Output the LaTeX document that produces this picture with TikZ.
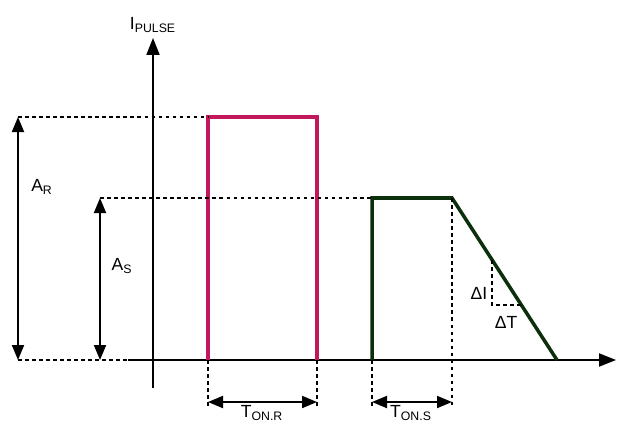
\documentclass[tikz,border=0pt]{standalone}
\usepackage{fontspec}
\setmainfont{Liberation Sans}
\usetikzlibrary{arrows.meta}

\definecolor{pulsered}{RGB}{194,24,91}
\definecolor{pulsegreen}{RGB}{12,48,12}

\begin{document}
\begin{tikzpicture}[
        x=0.02cm, y=-0.02cm,
        axis/.style={line width=1.1pt, -{Triangle[length=3.4mm, width=2.6mm]}},
        dim/.style={line width=1.1pt, {Triangle[length=3mm, width=2.4mm]}-{Triangle[length=3mm, width=2.4mm]}},
        guide/.style={dashed, dash pattern=on 2pt off 2pt, line width=0.7pt},
        lbl/.style={font=\fontsize{10}{12}\selectfont, inner sep=1pt},
        pulse/.style={line width=2pt, line join=miter}
        ]
        \useasboundingbox (0,0) rectangle (638,423);
        % axes
        \coordinate (ybot) at (153,388);
        \coordinate (ytop) at (153,38);
        \coordinate (xleft) at (128,360);
        \coordinate (xright) at (616,360);
        \draw[axis] (ybot) -- (ytop);
        \draw[axis] (xleft) -- (xright);
        \node[lbl, above=2pt] (ilabel) at (ytop) {I\textsubscript{PULSE}};
        % red pulse
        \coordinate (r1) at (208,360);
        \coordinate (r2) at (208,117);
        \coordinate (r3) at (317,117);
        \coordinate (r4) at (317,360);
        \draw[pulse, pulsered] (r1) -- (r2) -- (r3) -- (r4);
        % green pulse
        \coordinate (g1) at (372,360);
        \coordinate (g2) at (372,198);
        \coordinate (g3) at (452,198);
        \coordinate (g4) at (557,360);
        \draw[pulse, pulsegreen] (g1) -- (g2) -- (g3) -- (g4);
        % amplitude guides
        \coordinate (ar1) at (18,117);
        \coordinate (ar2) at (18,360);
        \coordinate (as1) at (100,198);
        \coordinate (as2) at (100,360);
        \draw[guide] (ar1) -- (r2);
        \draw[guide] (as1) -- (g2);
        \draw[guide] (ar2) -- (xleft);
        \draw[dim] (ar1) -- (ar2);
        \draw[dim] (as1) -- (as2);
        \node[lbl] (alabR) at (42,187) {A\textsubscript{R}};
        \node[lbl] (alabS) at (122,266) {A\textsubscript{S}};
        % time guides
        \coordinate (tr1) at (208,402);
        \coordinate (tr2) at (317,402);
        \coordinate (ts1) at (372,402);
        \coordinate (ts2) at (452,402);
        \draw[guide] (r1) -- ([yshift=-0.1cm]tr1);
        \draw[guide] (r4) -- ([yshift=-0.1cm]tr2);
        \draw[guide] (g1) -- ([yshift=-0.1cm]ts1);
        \draw[guide] (g3) -- ([yshift=-0.1cm]ts2);
        \draw[dim] (tr1) -- (tr2);
        \draw[dim] (ts1) -- (ts2);
        \node[lbl] (tlabR) at (262,413) {T\textsubscript{ON.R}};
        \node[lbl] (tlabS) at (411,413) {T\textsubscript{ON.S}};
        % slope
        \coordinate (d1) at (492,260);
        \coordinate (d2) at (492,305);
        \coordinate (d3) at (521,305);
        \draw[guide] (d1) -- (d2) -- (d3);
        \node[lbl] (dI) at (479,293) {ΔI};
        \node[lbl] (dT) at (506,322) {ΔT};
    \end{tikzpicture}
\end{document}
